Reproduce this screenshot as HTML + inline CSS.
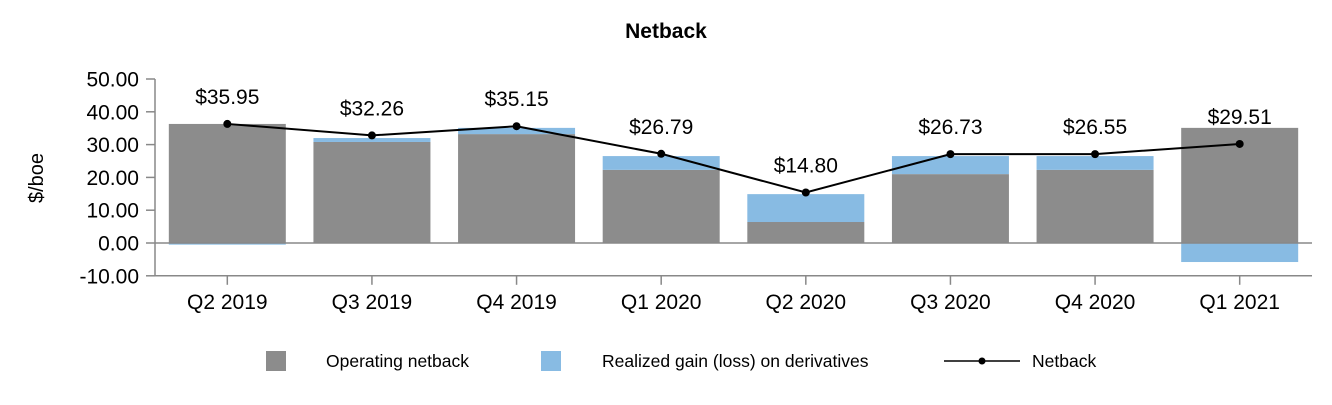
<!DOCTYPE html>
<html><head><meta charset="utf-8"><style>
body{margin:0;background:#fff;font-family:"Liberation Sans",Arial,sans-serif}
svg text{font-family:"Liberation Sans",Arial,sans-serif}
</style></head><body>
<svg id="c" width="1332" height="400" xmlns="http://www.w3.org/2000/svg"></svg>
<script>
const categories=["Q2 2019","Q3 2019","Q4 2019","Q1 2020","Q2 2020","Q3 2020","Q4 2020","Q1 2021"];
const operatingNetback=[36.3,30.8,33.2,22.3,6.4,21.0,22.3,35.1];
const realizedGain=[-0.5,1.2,1.9,4.2,8.5,5.5,4.2,-5.8];
const netback=[36.3,32.8,35.6,27.2,15.4,27.1,27.1,30.2];
const netbackLabels=["$35.95","$32.26","$35.15","$26.79","$14.80","$26.73","$26.55","$29.51"];
const yTicks=[-10,0,10,20,30,40,50];
const yTickLabels=["-10.00","0.00","10.00","20.00","30.00","40.00","50.00"];

const svg=document.getElementById('c');const NS="http://www.w3.org/2000/svg";
function mk(t,a,p){const e=document.createElementNS(NS,t);for(const k in a)e.setAttribute(k,a[k]);(p||svg).appendChild(e);return e;}
const x0=155,x1=1312,step=(x1-x0)/categories.length,bw=117;
const y=v=>243-v*3.28;
const xc=i=>x0+step*(i+0.5);

let t=mk('text',{x:666,y:38,'text-anchor':'middle','font-size':21,'font-weight':'bold',fill:'#000'});t.textContent='Netback';


let ax=mk('line',{x1:x0,x2:x0,y1:y(50),y2:y(-10),stroke:'#888','stroke-width':1.5});

yTicks.forEach((v,i)=>{
  mk('line',{x1:x0-9,x2:x0,y1:y(v),y2:y(v),stroke:'#888','stroke-width':1.5});
  const l=mk('text',{x:139,y:y(v)+7.5,'text-anchor':'end','font-size':21,fill:'#000'});l.textContent=yTickLabels[i];
  
});
t=mk('text',{x:43,y:178,'text-anchor':'middle','font-size':20,fill:'#000',transform:'rotate(-90 43 178)'});t.textContent='$/boe';


categories.forEach((c,i)=>{
  const op=operatingNetback[i],g=realizedGain[i],bx=xc(i)-bw/2;
  const b=mk('rect',{x:bx,y:y(op),width:bw,height:y(0)-y(op),fill:'#8c8c8c'});
  
  let gy,gh;
  if(g>=0){gy=y(op+g);gh=y(op)-y(op+g);}else{gy=y(0);gh=y(g)-y(0);}
  const r=mk('rect',{x:bx,y:gy,width:bw,height:gh,fill:'#88bbe3'});
  
});
mk('line',{x1:x0,x2:x1,y1:y(0),y2:y(0),stroke:'#888','stroke-width':1.5});
let bx=mk('line',{x1:x0,x2:x1,y1:y(-10),y2:y(-10),stroke:'#888','stroke-width':1.5});

categories.forEach((c,i)=>{
  mk('line',{x1:xc(i),x2:xc(i),y1:y(-10),y2:y(-10)+9,stroke:'#888','stroke-width':1.5});
  const l=mk('text',{x:xc(i),y:309,'text-anchor':'middle','font-size':21,fill:'#000'});l.textContent=c;
  
});
const ln=mk('polyline',{points:netback.map((v,i)=>xc(i)+','+y(v)).join(' '),fill:'none',stroke:'#000','stroke-width':2});

netback.forEach((v,i)=>{
  const p=mk('circle',{cx:xc(i),cy:y(v),r:4,fill:'#000'});
  
  const l=mk('text',{x:xc(i),y:y(v)-20,'text-anchor':'middle','font-size':21,fill:'#000'});l.textContent=netbackLabels[i];
  
});
let g=mk('g',{});
mk('rect',{x:266,y:351,width:20,height:20,fill:'#8c8c8c'},g);
t=mk('text',{x:326,y:367,'font-size':17.5,fill:'#000'},g);t.textContent='Operating netback';
g=mk('g',{});
mk('rect',{x:541,y:351,width:20,height:20,fill:'#88bbe3'},g);
t=mk('text',{x:602,y:367,'font-size':17.5,fill:'#000'},g);t.textContent='Realized gain (loss) on derivatives';
g=mk('g',{});
mk('line',{x1:944,x2:1020,y1:361,y2:361,stroke:'#000','stroke-width':1.5},g);
mk('circle',{cx:982,cy:361,r:3.5,fill:'#000'},g);
t=mk('text',{x:1032,y:367,'font-size':17.5,fill:'#000'},g);t.textContent='Netback';
</script>
</body></html>
